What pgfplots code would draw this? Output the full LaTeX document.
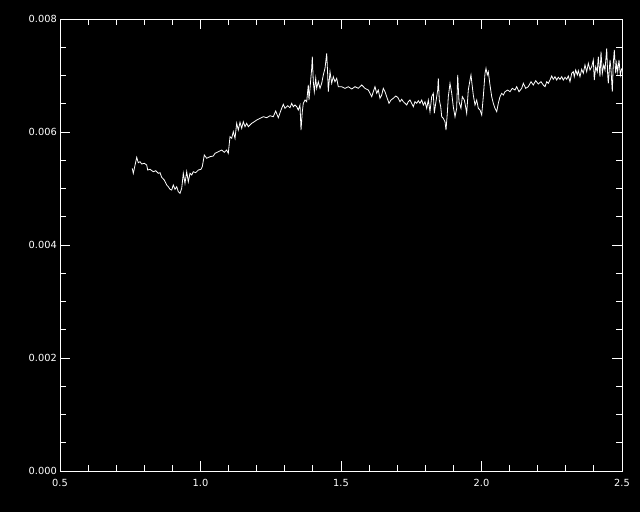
\documentclass[border=0pt]{standalone}
\usepackage{fontspec}
\setmainfont{DejaVu Sans}
\usepackage{pgfplots}
\pgfplotsset{compat=1.18}
\begin{document}
\begin{tikzpicture}
\fill[black] (0,0) rectangle (640pt,512pt);
\useasboundingbox (0,0) rectangle (640pt,512pt);
\begin{axis}[
  at={(60pt,41pt)}, anchor=south west,
  width=562pt, height=452pt, scale only axis,
  xmin=0.5, xmax=2.5, ymin=0, ymax=0.008,
  xtick={0.5,1,1.5,2,2.5},
  ytick={0,0.002,0.004,0.006,0.008},
  minor x tick num=4, minor y tick num=3,
  major tick length=10pt, minor tick length=6pt,
  tick align=inside,
  axis line style={white, line width=0.9pt},
  every tick/.style={white, line width=0.9pt},
  scaled y ticks=false, scaled x ticks=false,
  ticklabel style={white, font=\fontsize{9.8}{10}\selectfont},
  xticklabel style={anchor=north, inner sep=0pt, yshift=-8pt,
    /pgf/number format/.cd, fixed, fixed zerofill, precision=1, assume math mode=true},
  yticklabel style={anchor=east, inner sep=0pt, xshift=-3pt,
    /pgf/number format/.cd, fixed, fixed zerofill, precision=3, assume math mode=true},
]
\addplot[white, line width=0.8pt, mark=none] coordinates {
(0.7573,0.005357)(0.7609,0.005269)(0.7730,0.005552)(0.7786,0.005457)(0.7847,0.005474)
(0.7907,0.005434)(0.8000,0.005446)(0.8085,0.005416)(0.8121,0.005327)(0.8203,0.005340)
(0.8320,0.005297)(0.8406,0.005315)(0.8498,0.005269)(0.8559,0.005280)(0.8619,0.005198)
(0.8712,0.005150)(0.8797,0.005062)(0.8854,0.005032)(0.8915,0.004986)(0.8975,0.004973)
(0.9032,0.005062)(0.9093,0.004986)(0.9153,0.005032)(0.9210,0.004943)(0.9270,0.004915)
(0.9331,0.005004)(0.9388,0.005269)(0.9448,0.005092)(0.9509,0.005297)(0.9566,0.005120)
(0.9626,0.005269)(0.9687,0.005239)(0.9744,0.005297)(0.9829,0.005280)(0.9922,0.005327)
(1.0018,0.005340)(1.0064,0.005386)(1.0135,0.005593)(1.0221,0.005535)(1.0338,0.005563)
(1.0456,0.005575)(1.0516,0.005623)(1.0633,0.005651)(1.0754,0.005681)(1.0847,0.005641)
(1.0932,0.005681)(1.0989,0.005623)(1.1050,0.005917)(1.1110,0.005888)(1.1167,0.006005)
(1.1228,0.005888)(1.1288,0.006154)(1.1345,0.006035)(1.1406,0.006172)(1.1466,0.006065)
(1.1523,0.006182)(1.1584,0.006094)(1.1644,0.006154)(1.1701,0.006094)(1.1822,0.006154)
(1.1915,0.006182)(1.2000,0.006212)(1.2117,0.006242)(1.2235,0.006271)(1.2356,0.006253)
(1.2473,0.006288)(1.2591,0.006271)(1.2676,0.006372)(1.2769,0.006253)(1.2865,0.006389)
(1.2947,0.006490)(1.3007,0.006419)(1.3103,0.006465)(1.3185,0.006430)(1.3246,0.006508)
(1.3302,0.006448)(1.3363,0.006478)(1.3423,0.006448)(1.3480,0.006389)(1.3541,0.006478)
(1.3577,0.006035)(1.3623,0.006359)(1.3658,0.006508)(1.3719,0.006566)(1.3779,0.006536)
(1.3836,0.006832)(1.3861,0.006566)(1.3897,0.006773)(1.3957,0.007127)(1.3979,0.007333)
(1.4014,0.006890)(1.4050,0.006713)(1.4100,0.006950)(1.4135,0.006773)(1.4192,0.006890)
(1.4253,0.006773)(1.4313,0.006862)(1.4370,0.007009)(1.4431,0.007127)(1.4491,0.007393)
(1.4527,0.007009)(1.4548,0.006713)(1.4609,0.007067)(1.4669,0.006862)(1.4726,0.006979)
(1.4786,0.006890)(1.4847,0.006950)(1.4904,0.006802)(1.5025,0.006802)(1.5142,0.006773)
(1.5260,0.006802)(1.5381,0.006761)(1.5498,0.006802)(1.5616,0.006773)(1.5737,0.006832)
(1.5854,0.006773)(1.5972,0.006743)(1.6032,0.006685)(1.6093,0.006625)(1.6150,0.006713)
(1.6210,0.006802)(1.6270,0.006685)(1.6327,0.006743)(1.6388,0.006596)(1.6448,0.006655)
(1.6505,0.006773)(1.6566,0.006713)(1.6626,0.006625)(1.6708,0.006508)(1.6779,0.006566)
(1.6861,0.006596)(1.6947,0.006637)(1.7018,0.006614)(1.7100,0.006536)(1.7160,0.006579)
(1.7217,0.006536)(1.7278,0.006508)(1.7338,0.006478)(1.7395,0.006536)(1.7456,0.006566)
(1.7516,0.006508)(1.7573,0.006448)(1.7633,0.006536)(1.7694,0.006508)(1.7751,0.006554)
(1.7811,0.006508)(1.7872,0.006566)(1.7929,0.006478)(1.7989,0.006536)(1.8050,0.006419)
(1.8107,0.006566)(1.8167,0.006359)(1.8228,0.006625)(1.8285,0.006685)(1.8320,0.006331)
(1.8370,0.006508)(1.8441,0.006743)(1.8463,0.006950)(1.8498,0.006566)(1.8548,0.006448)
(1.8584,0.006271)(1.8641,0.006242)(1.8701,0.006182)(1.8737,0.006035)(1.8783,0.006331)
(1.8819,0.006625)(1.8879,0.006862)(1.8940,0.006685)(1.8996,0.006448)(1.9057,0.006271)
(1.9117,0.006419)(1.9153,0.007009)(1.9199,0.006536)(1.9270,0.006419)(1.9317,0.006625)
(1.9388,0.006566)(1.9413,0.006508)(1.9473,0.006331)(1.9530,0.006743)(1.9591,0.006920)
(1.9626,0.007009)(1.9673,0.006802)(1.9708,0.006655)(1.9769,0.006478)(1.9829,0.006566)
(1.9886,0.006419)(1.9947,0.006389)(2.0007,0.006301)(2.0064,0.006625)(2.0125,0.007039)
(2.0160,0.007127)(2.0206,0.007009)(2.0242,0.007067)(2.0302,0.006832)(2.0363,0.006625)
(2.0420,0.006508)(2.0480,0.006419)(2.0541,0.006359)(2.0598,0.006508)(2.0658,0.006625)
(2.0719,0.006685)(2.0776,0.006655)(2.0836,0.006713)(2.0932,0.006743)(2.1014,0.006713)
(2.1096,0.006773)(2.1192,0.006743)(2.1253,0.006802)(2.1335,0.006713)(2.1431,0.006773)
(2.1488,0.006862)(2.1573,0.006773)(2.1665,0.006802)(2.1762,0.006890)(2.1843,0.006832)
(2.1929,0.006908)(2.2021,0.006850)(2.2117,0.006890)(2.2199,0.006832)(2.2260,0.006802)
(2.2320,0.006890)(2.2377,0.006862)(2.2438,0.006920)(2.2498,0.006991)(2.2555,0.006933)
(2.2616,0.006979)(2.2676,0.006920)(2.2733,0.006968)(2.2794,0.006933)(2.2854,0.006979)
(2.2911,0.006920)(2.2972,0.006968)(2.3032,0.006933)(2.3089,0.006991)(2.3149,0.006890)
(2.3210,0.007039)(2.3267,0.007067)(2.3302,0.006979)(2.3352,0.007097)(2.3409,0.007009)
(2.3445,0.007085)(2.3505,0.006979)(2.3566,0.007110)(2.3623,0.007039)(2.3683,0.007186)
(2.3744,0.007067)(2.3801,0.007216)(2.3861,0.007097)(2.3922,0.007156)(2.3979,0.007274)
(2.4014,0.006920)(2.4064,0.007156)(2.4121,0.007067)(2.4157,0.007333)(2.4217,0.006979)
(2.4253,0.007421)(2.4299,0.007039)(2.4349,0.007186)(2.4395,0.007097)(2.4456,0.007481)
(2.4491,0.007009)(2.4513,0.006862)(2.4573,0.007274)(2.4609,0.007097)(2.4655,0.006713)
(2.4690,0.007216)(2.4726,0.007451)(2.4776,0.007039)(2.4811,0.007216)(2.4847,0.007067)
(2.4893,0.007274)(2.4940,0.007009)(2.4989,0.007127)
};
\end{axis}
\end{tikzpicture}
\end{document}
